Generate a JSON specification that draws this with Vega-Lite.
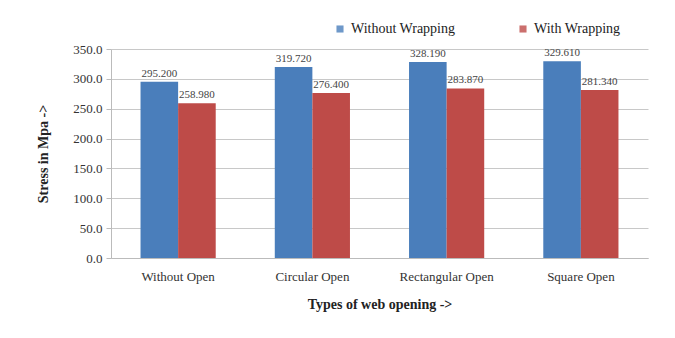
{
  "$schema": "https://vega.github.io/schema/vega-lite/v6.json",
  "autosize": {"type": "none"},
  "width": 537,
  "height": 209,
  "padding": {"left": 111, "top": 49, "right": 27, "bottom": 80},
  "background": "white",
  "config": {
    "font": "Liberation Serif",
    "view": {"stroke": null},
    "axis": {"labelFont": "Liberation Serif", "titleFont": "Liberation Serif", "labelColor": "#333333", "titleColor": "#222222"},
    "legend": {"labelFont": "Liberation Serif", "titleFont": "Liberation Serif"},
    "text": {"font": "Liberation Serif"}
  },
  "data": {
    "values": [
      {"opening": "Without Open", "series": "Without Wrapping", "stress": 295.2},
      {"opening": "Without Open", "series": "With Wrapping", "stress": 258.98},
      {"opening": "Circular Open", "series": "Without Wrapping", "stress": 319.72},
      {"opening": "Circular Open", "series": "With Wrapping", "stress": 276.4},
      {"opening": "Rectangular Open", "series": "Without Wrapping", "stress": 328.19},
      {"opening": "Rectangular Open", "series": "With Wrapping", "stress": 283.87},
      {"opening": "Square Open", "series": "Without Wrapping", "stress": 329.61},
      {"opening": "Square Open", "series": "With Wrapping", "stress": 281.34}
    ]
  },
  "encoding": {
    "x": {
      "field": "opening", "type": "nominal", "sort": null,
      "scale": {"paddingInner": 0.44, "paddingOuter": 0.22},
      "axis": {"title": "Types of web opening ->", "labelAngle": 0, "labelFontSize": 13, "titleFontSize": 14, "titleFontWeight": "bold", "labelPadding": 12, "titlePadding": 14, "ticks": false, "domainColor": "#bbbbbb"}
    },
    "xOffset": {"field": "series", "type": "nominal", "sort": ["Without Wrapping", "With Wrapping"], "scale": {"paddingInner": 0}},
    "y": {
      "field": "stress", "type": "quantitative",
      "scale": {"domain": [0, 350]},
      "axis": {"title": "Stress in Mpa ->", "format": ".1f", "values": [0, 50, 100, 150, 200, 250, 300, 350], "labelOverlap": false, "labelFontSize": 13, "titleFontSize": 14, "titleFontWeight": "bold", "titlePadding": 22, "labelPadding": 4, "tickSize": 5, "tickColor": "#bbbbbb", "domain": true, "domainColor": "#bbbbbb", "gridColor": "#c8c8c8"}
    }
  },
  "layer": [
    {
      "mark": {"type": "bar"},
      "encoding": {
        "color": {
          "field": "series", "type": "nominal",
          "scale": {"domain": ["Without Wrapping", "With Wrapping"], "range": ["#4a7ebb", "#be4b48"]},
          "legend": {"title": null, "orient": "none", "legendX": 222, "legendY": -27, "direction": "horizontal", "columns": 2, "columnPadding": 60, "symbolType": "square", "symbolSize": 50, "labelFontSize": 14, "labelFont": "Liberation Serif", "labelColor": "#222222", "symbolOpacity": 0.8, "labelLimit": 300}
        }
      }
    },
    {
      "mark": {"type": "text", "dy": -8, "fontSize": 11, "color": "#444444", "font": "Liberation Serif"},
      "encoding": {
        "text": {"field": "stress", "type": "quantitative", "format": ".3f"}
      }
    }
  ]
}
